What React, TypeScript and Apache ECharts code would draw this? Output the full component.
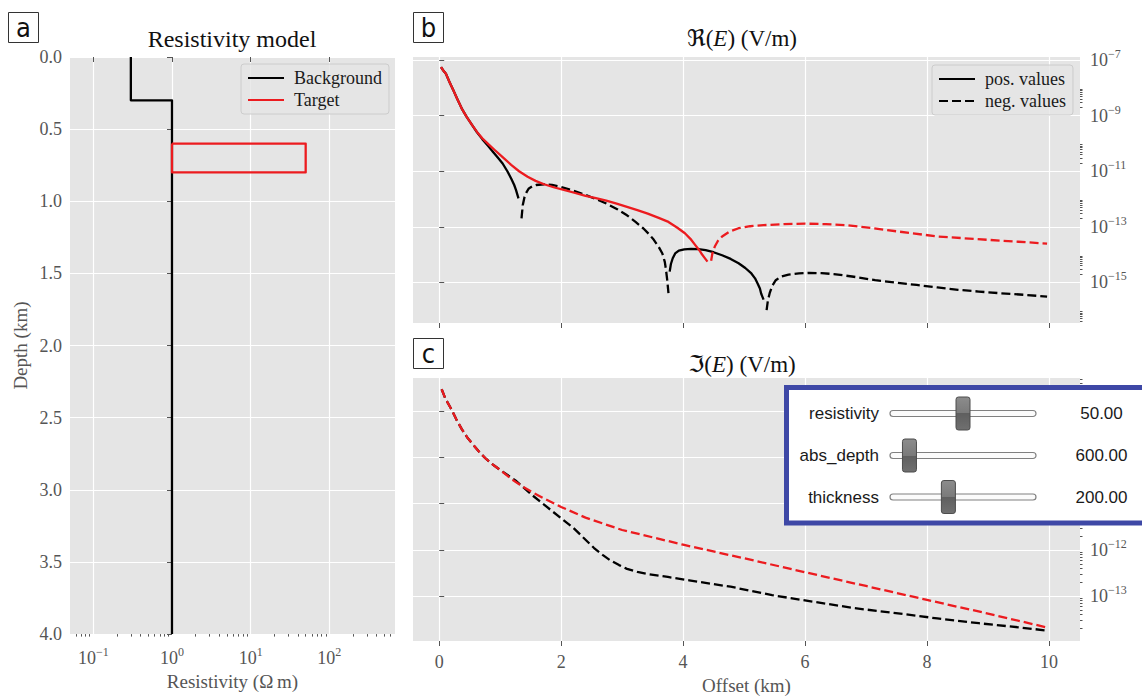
import React, { useEffect, useRef } from 'react';
import * as echarts from 'echarts';

const SERIF = "'Liberation Serif', 'DejaVu Serif', 'DejaVu Sans', serif";
const SANS = "'Liberation Sans', Arial, sans-serif";
const LETTER = "'Liberation Sans Narrow', 'DejaVu Sans Condensed', 'Liberation Sans', sans-serif";
const BLACK = '#000000';
const RED = '#ec1b1f';
const TICK = '#555555';
const DASH = [9, 4];

// ---------- Panel a: resistivity model ----------
const bgResistivity = [0.3, 0.3, 1, 1];
const bgDepth = [0, 0.3, 0.3, 4];
const tgResistivity = [1, 50, 50, 1, 1];
const tgDepth = [0.6, 0.6, 0.8, 0.8, 0.6];
const resistivityDecades = [-1, 0, 1, 2];
const depthRange = [0, 4];

// ---------- Panel b: Re(E) (V/m), absolute values ----------
const reBgPos1Off = [0.03, 0.06, 0.11, 0.17, 0.23, 0.3, 0.37, 0.45, 0.54, 0.62, 0.71, 0.8, 0.88, 0.96, 1.04, 1.12, 1.18, 1.23, 1.26, 1.3];
const reBgPos1Val = [5.6e-8, 4.4e-8, 3.2e-8, 1.6e-8, 8.3e-9, 3.8e-9, 1.8e-9, 9.0e-10, 4.6e-10, 2.5e-10, 1.4e-10, 8.2e-11, 5.0e-11, 3.1e-11, 1.9e-11, 9.8e-12, 5.5e-12, 3.2e-12, 2.1e-12, 1.05e-12];
const reBgNeg1Off = [1.35, 1.37, 1.4, 1.44, 1.47, 1.53, 1.59, 1.72, 1.85, 1.99, 2.2, 2.4, 2.58, 2.74, 2.92, 3.08, 3.22, 3.35, 3.45, 3.52, 3.6, 3.66, 3.7, 3.72, 3.74, 3.76];
const reBgNeg1Val = [2.0e-13, 6.0e-13, 1.2e-12, 1.9e-12, 2.4e-12, 2.9e-12, 3.2e-12, 3.4e-12, 3.2e-12, 2.75e-12, 2.0e-12, 1.4e-12, 9.8e-13, 6.9e-13, 4.3e-13, 2.6e-13, 1.5e-13, 8.7e-14, 5.2e-14, 3.4e-14, 1.9e-14, 1.1e-14, 5.5e-15, 2.8e-15, 1.2e-15, 4.1e-16];
const reBgPos2Off = [3.78, 3.8, 3.83, 3.87, 3.93, 4.02, 4.13, 4.25, 4.37, 4.5, 4.64, 4.78, 4.91, 5.02, 5.12, 5.18, 5.22, 5.26, 5.28, 5.3, 5.32];
const reBgPos2Val = [2.45e-15, 4.6e-15, 7.4e-15, 1.1e-14, 1.4e-14, 1.55e-14, 1.6e-14, 1.57e-14, 1.45e-14, 1.22e-14, 9.5e-15, 7.0e-15, 4.9e-15, 3.3e-15, 2.1e-15, 1.4e-15, 9.3e-16, 6.0e-16, 4.0e-16, 3.1e-16, 2.4e-16];
const reBgNeg2Off = [5.37, 5.39, 5.42, 5.46, 5.52, 5.6, 5.73, 5.9, 6.07, 6.27, 6.47, 6.8, 7.15, 7.5, 7.83, 8.17, 8.51, 8.85, 9.19, 9.58, 9.97];
const reBgNeg2Val = [1.0e-16, 2.2e-16, 4.1e-16, 7.4e-16, 1.2e-15, 1.6e-15, 1.9e-15, 2.1e-15, 2.2e-15, 2.15e-15, 2.0e-15, 1.6e-15, 1.2e-15, 9.8e-16, 8.1e-16, 6.6e-16, 5.4e-16, 4.7e-16, 4.1e-16, 3.6e-16, 3.1e-16];
const reTgPosOff = [0.03, 0.06, 0.11, 0.17, 0.23, 0.3, 0.37, 0.45, 0.54, 0.62, 0.71, 0.81, 0.91, 1.04, 1.18, 1.31, 1.45, 1.58, 1.72, 1.89, 2.06, 2.23, 2.4, 2.57, 2.74, 2.91, 3.08, 3.25, 3.42, 3.6, 3.76, 3.9, 4.03, 4.12, 4.2, 4.26, 4.3, 4.35, 4.4];
const reTgPosVal = [5.6e-8, 4.4e-8, 3.2e-8, 1.6e-8, 8.3e-9, 3.8e-9, 1.8e-9, 9.0e-10, 4.6e-10, 2.6e-10, 1.5e-10, 9.2e-11, 5.8e-11, 3.2e-11, 1.7e-11, 1.0e-11, 6.3e-12, 4.5e-12, 3.4e-12, 2.6e-12, 2.1e-12, 1.65e-12, 1.3e-12, 1.07e-12, 8.7e-13, 6.8e-13, 5.2e-13, 4.0e-13, 3.0e-13, 2.1e-13, 1.5e-13, 9.5e-14, 5.9e-14, 3.7e-14, 2.2e-14, 1.5e-14, 1.1e-14, 7.8e-15, 5.6e-15];
const reTgNegOff = [4.46, 4.48, 4.52, 4.57, 4.64, 4.76, 4.91, 5.1, 5.32, 5.65, 6.0, 6.34, 6.68, 7.0, 7.35, 7.75, 8.17, 8.6, 9.0, 9.5, 9.97];
const reTgNegVal = [6.0e-15, 1.1e-14, 1.95e-14, 3.1e-14, 4.5e-14, 6.7e-14, 8.9e-14, 1.05e-13, 1.15e-13, 1.25e-13, 1.3e-13, 1.25e-13, 1.15e-13, 9.6e-14, 7.6e-14, 5.9e-14, 4.5e-14, 3.9e-14, 3.4e-14, 2.9e-14, 2.5e-14];

// ---------- Panel c: Im(E) (V/m), absolute values (all negative) ----------
const imBgNegOff = [0.04, 0.1, 0.2, 0.28, 0.37, 0.47, 0.57, 0.67, 0.77, 0.9, 1.04, 1.25, 1.52, 1.86, 2.2, 2.54, 2.68, 2.81, 2.95, 3.08, 3.25, 3.42, 3.75, 4.1, 4.78, 5.46, 6.13, 6.81, 7.49, 8.17, 8.85, 9.53, 9.97];
const imBgNegVal = [3.0e-9, 1.9e-9, 1.1e-9, 6.7e-10, 4.1e-10, 2.6e-10, 1.8e-10, 1.25e-10, 9.3e-11, 6.7e-11, 4.9e-11, 3.2e-11, 1.55e-11, 6.8e-12, 3.0e-12, 1.1e-12, 7.8e-13, 5.9e-13, 4.7e-13, 3.9e-13, 3.35e-13, 3.0e-13, 2.6e-13, 2.2e-13, 1.6e-13, 1.05e-13, 7.6e-14, 5.5e-14, 4.3e-14, 3.3e-14, 2.6e-14, 2.1e-14, 1.8e-14];
const imTgNegOff = [0.04, 0.1, 0.2, 0.28, 0.37, 0.47, 0.57, 0.67, 0.77, 0.9, 1.04, 1.2, 1.38, 1.55, 1.72, 2.0, 2.4, 3.0, 4.0, 5.0, 6.0, 7.0, 8.0, 9.0, 9.97];
const imTgNegVal = [3.0e-9, 1.9e-9, 1.1e-9, 6.7e-10, 4.1e-10, 2.6e-10, 1.8e-10, 1.25e-10, 9.3e-11, 6.7e-11, 4.9e-11, 3.3e-11, 2.3e-11, 1.7e-11, 1.3e-11, 8.5e-12, 5.0e-12, 2.7e-12, 1.3e-12, 6.6e-13, 3.3e-13, 1.66e-13, 8.3e-14, 4.2e-14, 2.1e-14];

const offsetTicks = [0, 2, 4, 6, 8, 10];
const reDecades = [-15, -13, -11, -9, -7];
const imDecades = [-13, -12, -11, -10, -9];

// ---------- Slider widget ----------
const sliderNames = ['resistivity', 'abs_depth', 'thickness'];
const sliderValues = [50, 600, 200];
const sliderMins = [0, 500, 0];
const sliderMaxs = [100, 1250, 500];

// ---------- axis ranges (log10 for log axes) ----------
const A_XMIN = -1.296, A_XMAX = 2.834;
const OFF_MIN = -0.43, OFF_MAX = 10.51;
const B_YMIN = -16.46, B_YMAX = -6.89;
const C_YMIN = -13.97, C_YMAX = -8.28;

const lg = (v: number) => Math.log10(v);
const pts = (xs: number[], ys: number[]) => xs.map((x, i) => [x, lg(ys[i])]);

function minorTicks(kFrom: number, kTo: number, step: number, lo: number, hi: number) {
  const out: number[] = [];
  for (let k = kFrom; k <= kTo; k += step) {
    for (let m = 2; m <= 9; m++) {
      const v = k + Math.log10(m);
      if (v > lo && v < hi) out.push(v);
    }
  }
  return out;
}

const supRich = {
  b: { fontFamily: SERIF, fontSize: 18, color: TICK, lineHeight: 24 },
  s: { fontFamily: SERIF, fontSize: 12, color: TICK, verticalAlign: 'top', lineHeight: 13 },
};
const supFmt = (v: number) => {
  const n = Math.round(v);
  return `{b|10}{s|${n < 0 ? '\u2212' + Math.abs(n) : n}}`;
};

const tickStyle = { show: true, inside: false, length: 5, lineStyle: { color: TICK, width: 1 } };
const gridLine = { show: true, lineStyle: { color: '#ffffff', width: 1.2 } };
const labelStyle = { color: TICK, fontFamily: SERIF, fontSize: 18 };
const nameStyle = { color: TICK, fontFamily: SERIF, fontSize: 19 };

function minorAxis(gridIndex: number, min: number, max: number, ticks: number[], position: string) {
  return {
    type: 'value', gridIndex, min, max, position,
    axisLine: { show: false }, axisLabel: { show: false }, splitLine: { show: false },
    axisTick: { show: true, inside: false, length: 2.5, customValues: ticks, lineStyle: { color: TICK, width: 1 } },
  };
}

function lineSeries(name: string, data: number[][], color: string, dashed: boolean, xi: number, yi: number, z = 2) {
  return {
    name, type: 'line', data, xAxisIndex: xi, yAxisIndex: yi, symbol: 'none', showSymbol: false,
    z, silent: true,
    lineStyle: { color, width: 2.3, type: dashed ? DASH : 'solid', join: 'round' },
    itemStyle: { color },
  };
}

function buildOption() {
  const legendCommon = {
    orient: 'vertical', itemWidth: 36, itemHeight: 14, itemGap: 4,
    padding: [5, 7, 5, 6], selectedMode: false,
    backgroundColor: 'rgba(229,229,229,0.8)', borderColor: '#cccccc', borderWidth: 1, borderRadius: 3,
    itemStyle: { opacity: 0, borderWidth: 0 },
    textStyle: { fontFamily: SERIF, fontSize: 18, color: '#1a1a1a', padding: [0, 0, 0, 5] },
  };

  const letterBox = (ch: string, x: number, y: number) => [
    { type: 'rect', z: 20, shape: { x, y, width: 30, height: 30 }, style: { fill: '#fff', stroke: '#333', lineWidth: 1 } },
    { type: 'text', z: 21, x: x + 15, y: y + 15, style: { text: ch, fontFamily: LETTER, fontSize: 27, fill: '#111', align: 'center', verticalAlign: 'middle' } },
  ];

  const titleRich = (sym: string) => ({
    text: `{n|${sym}(}{i|E}{n|) (V/m)}`,
    rich: {
      n: { fontFamily: SERIF, fontSize: 23, fill: '#111' },
      i: { fontFamily: SERIF, fontSize: 23, fontStyle: 'italic', fill: '#111' },
    },
    align: 'center', verticalAlign: 'middle',
  });

  const rowY = [413.5, 455.5, 497];
  const trackX = 890, trackW = 146, handleW = 14, handleH = 33;
  const widget: any[] = [
    { type: 'rect', z: 100, shape: { x: 786.5, y: 387.5, width: 420, height: 135.5 }, style: { fill: '#ffffff', stroke: '#3e48a6', lineWidth: 5 } },
  ];
  sliderNames.forEach((nm, i) => {
    const cy = rowY[i];
    const frac = (sliderValues[i] - sliderMins[i]) / (sliderMaxs[i] - sliderMins[i]);
    const hx = trackX + frac * trackW;
    widget.push(
      { type: 'text', z: 101, x: 879, y: cy, style: { text: nm, fontFamily: SANS, fontSize: 17, fill: '#1a1a1a', align: 'right', verticalAlign: 'middle' } },
      { type: 'rect', z: 101, shape: { x: trackX, y: cy - 3, width: trackW, height: 6, r: 3 }, style: { fill: '#fbfbfb', stroke: '#808080', lineWidth: 1.2 } },
      {
        type: 'rect', z: 102, shape: { x: hx - handleW / 2, y: cy - handleH / 2, width: handleW, height: handleH, r: 2.5 },
        style: {
          fill: { type: 'linear', x: 0, y: 0, x2: 0, y2: 1, colorStops: [
            { offset: 0, color: '#8c8c8c' }, { offset: 0.5, color: '#7a7a7a' },
            { offset: 0.5, color: '#5f5f5f' }, { offset: 1, color: '#707070' } ] },
          stroke: '#4d4d4d', lineWidth: 1,
        },
      },
      { type: 'text', z: 101, x: 1101.5, y: cy, style: { text: sliderValues[i].toFixed(2), fontFamily: SANS, fontSize: 17, fill: '#1a1a1a', align: 'center', verticalAlign: 'middle' } },
    );
  });

  return {
    animation: false,
    backgroundColor: '#ffffff',
    grid: [
      { left: 70, top: 57, width: 325, height: 590, show: true, backgroundColor: '#e5e5e5', borderWidth: 0 },
      { left: 413, top: 57, width: 667, height: 266, show: true, backgroundColor: '#e5e5e5', borderWidth: 0 },
      { left: 413, top: 378, width: 667, height: 267, show: true, backgroundColor: '#e5e5e5', borderWidth: 0 },
    ],
    xAxis: [
      {
        type: 'value', gridIndex: 0, min: A_XMIN, max: A_XMAX, position: 'bottom',
        axisLine: { show: false },
        axisTick: { ...tickStyle, customValues: resistivityDecades },
        axisLabel: { customValues: resistivityDecades, formatter: supFmt, rich: supRich, margin: 12 },
        splitLine: gridLine,
        name: 'Resistivity (\u03A9\u2009m)', nameLocation: 'middle', nameGap: 32, nameTextStyle: nameStyle,
      },
      minorAxis(0, A_XMIN, A_XMAX, minorTicks(-2, 2, 1, A_XMIN, A_XMAX), 'bottom'),
      {
        type: 'value', gridIndex: 1, min: OFF_MIN, max: OFF_MAX, position: 'bottom',
        axisLine: { show: false },
        axisTick: { ...tickStyle, customValues: offsetTicks },
        axisLabel: { show: false, customValues: offsetTicks },
        splitLine: gridLine,
      },
      {
        type: 'value', gridIndex: 2, min: OFF_MIN, max: OFF_MAX, position: 'bottom',
        axisLine: { show: false },
        axisTick: { ...tickStyle, customValues: offsetTicks },
        axisLabel: { ...labelStyle, customValues: offsetTicks, margin: 12 },
        splitLine: gridLine,
        name: 'Offset (km)', nameLocation: 'middle', nameGap: 35, nameTextStyle: nameStyle,
      },
    ],
    yAxis: [
      {
        type: 'value', gridIndex: 0, min: depthRange[0], max: depthRange[1], interval: 0.5, inverse: true, position: 'left',
        axisLine: { show: false }, axisTick: tickStyle,
        axisLabel: { ...labelStyle, margin: 8, formatter: (v: number) => v.toFixed(1) },
        splitLine: gridLine,
        name: 'Depth (km)', nameLocation: 'middle', nameGap: 40, nameRotate: 90, nameTextStyle: nameStyle,
      },
      {
        type: 'value', gridIndex: 1, min: B_YMIN, max: B_YMAX, position: 'right',
        axisLine: { show: false },
        axisTick: { ...tickStyle, customValues: reDecades },
        axisLabel: { customValues: reDecades, formatter: supFmt, rich: supRich, margin: 10 },
        splitLine: gridLine,
      },
      minorAxis(1, B_YMIN, B_YMAX, minorTicks(-17, -7, 2, B_YMIN, B_YMAX), 'right'),
      {
        type: 'value', gridIndex: 2, min: C_YMIN, max: C_YMAX, position: 'right',
        axisLine: { show: false },
        axisTick: { ...tickStyle, customValues: imDecades },
        axisLabel: { customValues: imDecades, formatter: supFmt, rich: supRich, margin: 10 },
        splitLine: gridLine,
      },
      minorAxis(2, C_YMIN, C_YMAX, minorTicks(-15, -9, 1, C_YMIN, C_YMAX), 'right'),
    ],
    legend: [
      { ...legendCommon, data: ['Background', 'Target'], left: 241, top: 64 },
      { ...legendCommon, data: ['pos. values', 'neg. values'], left: 932, top: 65 },
    ],
    series: [
      lineSeries('Background', bgResistivity.map((r, i) => [lg(r), bgDepth[i]]), BLACK, false, 0, 0, 2),
      lineSeries('Target', tgResistivity.map((r, i) => [lg(r), tgDepth[i]]), RED, false, 0, 0, 3),
      lineSeries('pos. values', [], BLACK, false, 2, 1),
      lineSeries('neg. values', [], BLACK, true, 2, 1),
      lineSeries('re-bg-pos-1', pts(reBgPos1Off, reBgPos1Val), BLACK, false, 2, 1, 2),
      lineSeries('re-bg-neg-1', pts(reBgNeg1Off, reBgNeg1Val), BLACK, true, 2, 1, 2),
      lineSeries('re-bg-pos-2', pts(reBgPos2Off, reBgPos2Val), BLACK, false, 2, 1, 2),
      lineSeries('re-bg-neg-2', pts(reBgNeg2Off, reBgNeg2Val), BLACK, true, 2, 1, 2),
      lineSeries('re-tg-pos', pts(reTgPosOff, reTgPosVal), RED, false, 2, 1, 3),
      lineSeries('re-tg-neg', pts(reTgNegOff, reTgNegVal), RED, true, 2, 1, 3),
      lineSeries('im-bg-neg', pts(imBgNegOff, imBgNegVal), BLACK, true, 3, 3, 2),
      lineSeries('im-tg-neg', pts(imTgNegOff, imTgNegVal), RED, true, 3, 3, 3),
    ],
    graphic: [
      ...letterBox('a', 8.5, 12.5),
      ...letterBox('b', 413.5, 12.5),
      ...letterBox('c', 413.5, 338.5),
      { type: 'text', z: 20, x: 232, y: 39, style: { text: 'Resistivity model', fontFamily: SERIF, fontSize: 24, fill: '#111', align: 'center', verticalAlign: 'middle' } },
      { type: 'text', z: 20, x: 742, y: 38, style: titleRich('\u211C') },
      { type: 'text', z: 20, x: 742, y: 364, style: titleRich('\u2111') },
      ...widget,
    ],
  };
}

export default function App() {
  const ref = useRef<HTMLDivElement>(null);
  useEffect(() => {
    if (!ref.current) return;
    const chart = echarts.init(ref.current, null, { renderer: 'svg' });
    chart.setOption(buildOption() as any);
    return () => chart.dispose();
  }, []);
  return (
    <div
      ref={ref}
      style={{ position: 'absolute', left: 0, top: 0, width: 1142, height: 696, background: '#ffffff' }}
    />
  );
}
